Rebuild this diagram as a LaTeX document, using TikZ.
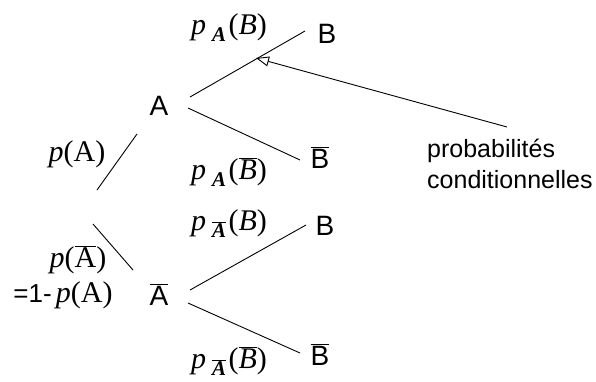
\documentclass[tikz,border=0pt]{standalone}
\usepackage{fontspec}
\setmainfont{Liberation Serif}
\newfontfamily\sansf{Liberation Sans}
\usetikzlibrary{arrows.meta}
\newcommand{\ovl}[1]{$\overline{\mbox{#1}}$}
\newcommand{\psub}[2]{\textit{p}\hspace{0.2em}\raisebox{-0.5ex}{\fontsize{21}{21}\selectfont\textit{\textbf{#1}}}\hspace{0.08em}(\textit{#2})}
\tikzset{
  branch/.style={line width=0.9pt},
  letter/.style={font=\sansf\fontsize{28}{30}\selectfont, inner sep=0pt, anchor=base},
  plabel/.style={font=\fontsize{30}{32}\selectfont, inner sep=0pt},
  note/.style={font=\sansf\fontsize{25}{28}\selectfont, inner sep=0pt, anchor=base west},
}
\begin{document}
\begin{tikzpicture}[x=1pt,y=-1pt]
\useasboundingbox (0,0) rectangle (596,381);
% nodes
\node[letter] (A) at (159,115) {A};
\node[letter] (Ab) at (159,305) {\ovl{A}};
\node[letter] (B1) at (327,43) {B};
\node[letter] (B1b) at (320,168) {\ovl{B}};
\node[letter] (B2) at (325,235) {B};
\node[letter] (B2b) at (320,365) {\ovl{B}};
% labels
\node[plabel] (lpA) at (77,154) {\textit{p}(A)};
\node[plabel] (lpAb) at (78,260) {\textit{p}(\ovl{A})};
\node[plabel] (lpAc) at (63,295) {{\sansf\fontsize{26}{28}\selectfont =1-\,}\textit{p}(A)};
\node[plabel] (l1) at (229,28) {\psub{A}{B}};
\node[plabel] (l2) at (229,172) {\psub{A}{\ovl{\textit{B}}}};
\node[plabel] (l3) at (229,224) {\psub{\ovl{\textit{\textbf{A}}}}{B}};
\node[plabel] (l4) at (229,361) {\psub{\ovl{\textit{\textbf{A}}}}{\ovl{\textit{B}}}};
\node[note] (n1) at (427,157) {probabilités};
\node[note] (n2) at (427,188) {conditionnelles};
% coordinates
\coordinate (pa1) at (97,190); \coordinate (pa2) at (137,134);
\coordinate (pb1) at (93,224); \coordinate (pb2) at (133,270);
\coordinate (a1) at (190,97); \coordinate (a1e) at (305,31);
\coordinate (a2) at (188,108); \coordinate (a2e) at (300,160);
\coordinate (c1) at (190,290); \coordinate (c1e) at (306,225);
\coordinate (c2) at (188,303); \coordinate (c2e) at (300,353);
\coordinate (ptr) at (507,127); \coordinate (tip) at (256,58);
% connectors
\draw[branch] (pa1) -- (pa2);
\draw[branch] (pb1) -- (pb2);
\draw[branch] (a1) -- (a1e);
\draw[branch] (a2) -- (a2e);
\draw[branch] (c1) -- (c1e);
\draw[branch] (c2) -- (c2e);
\draw[branch, -{Triangle[open,length=13pt,width=10pt]}] (ptr) -- (tip);
\end{tikzpicture}
\end{document}
